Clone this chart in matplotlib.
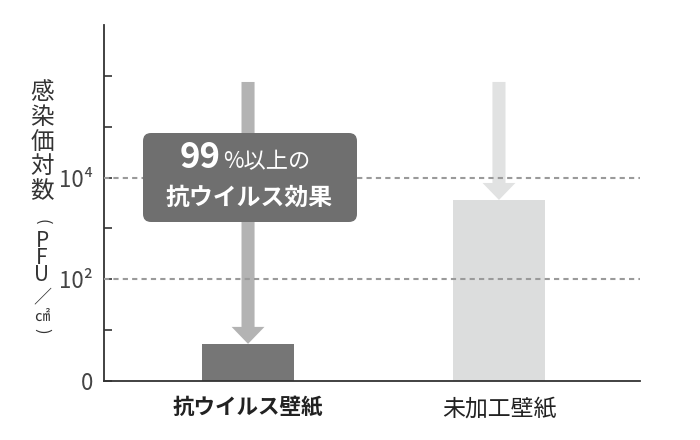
import matplotlib.pyplot as plt
from matplotlib.patches import FancyBboxPatch

plt.rcParams['font.family'] = ['Noto Sans CJK JP', 'DejaVu Sans']

# data (log10 of PFU/cm2)
categories = ['抗ウイルス壁紙', '未加工壁紙']
values = [0.73, 3.56]
arrow_start = 5.88
tick_pos = [0, 1, 2, 3, 4, 5, 6]
tick_labels = ['0', '', '10²', '', '10⁴', '', '']
ref_lines = [2, 4]
bar_colors = ['#767676', '#dcdddd']
arrow_colors = ['#b3b3b3', '#e1e2e2']

W, H = 700, 440
fig = plt.figure(figsize=(7, 4.4), dpi=100)
ax = fig.add_axes([104 / W, 1 - 381 / H, (640 - 104) / W, (381 - 25) / H])

x = list(range(len(categories)))
ax.bar(x, values, width=0.363, color=bar_colors, zorder=2)

for xi, v, c in zip(x, values, arrow_colors):
    ax.arrow(xi, arrow_start, 0, v - arrow_start, width=0.052, head_width=0.131,
             head_length=0.334, length_includes_head=True, color=c, lw=0, zorder=3)

for r in ref_lines:
    ax.axhline(r, color='#9a9a9a', lw=1.5, ls=(0, (2.5, 2)), zorder=4)

ax.set_xlim(-0.574, 1.562)
ax.set_ylim(0, 7)
ax.set_yticks(tick_pos)
ax.set_yticklabels(tick_labels, fontsize=16, color='#444444')
ax.tick_params(axis='y', direction='in', length=6, width=1.2, color='#333333', pad=8)
ax.set_xticks(x)
ax.set_xticklabels(categories, fontsize=15.5, color='#222222')
ax.get_xticklabels()[0].set_fontweight('bold')
ax.get_xticklabels()[1].set_fontsize(16.5)
ax.tick_params(axis='x', length=0, pad=12)
for s in ['top', 'right']:
    ax.spines[s].set_visible(False)
for s in ['left', 'bottom']:
    ax.spines[s].set_color('#333333')
    ax.spines[s].set_linewidth(1.3)

# callout box
box = FancyBboxPatch((1.43 + 0.08, 2.18 + 0.08), 2.14 - 0.16, 0.89 - 0.16,
                     boxstyle='round,pad=0.08', transform=fig.dpi_scale_trans,
                     facecolor='#6f6f6f', edgecolor='none', zorder=5)
fig.patches.append(box)
fig.text(221 / W, 1 - 168 / H, '99', fontsize=25, fontweight='bold', color='white',
         ha='right', va='baseline', zorder=6)
fig.text(223 / W, 1 - 168 / H, '%以上の', fontsize=16, color='white',
         ha='left', va='baseline', zorder=6)
fig.text(249 / W, 1 - 198 / H, '抗ウイルス効果', fontsize=17.2, fontweight='bold',
         color='white', ha='center', va='center', zorder=6)

# vertical y label
lc = '#333333'
fig.text(42 / W, 1 - 142 / H, '感\n染\n価\n対\n数', fontsize=17, color=lc,
         ha='center', va='center', linespacing=1.1)
fig.text(42 / W, 1 - 222 / H, '(', fontsize=12, color=lc, rotation=-90,
         ha='center', va='center')
fig.text(42 / W, 1 - 258 / H, 'P\nF\nU', fontsize=15, color=lc,
         ha='center', va='center', linespacing=0.72)
fig.text(42 / W, 1 - 297 / H, '／', fontsize=13, color=lc,
         ha='center', va='center')
fig.text(42 / W, 1 - 316 / H, '㎠', fontsize=11, color=lc,
         ha='center', va='center')
fig.text(42 / W, 1 - 331 / H, ')', fontsize=12, color=lc, rotation=-90,
         ha='center', va='center')

plt.savefig('out.png', dpi=100)
